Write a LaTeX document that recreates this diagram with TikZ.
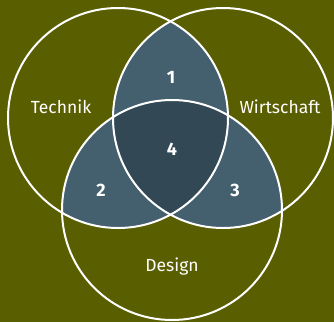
\documentclass[tikz,border=0pt]{standalone}
\usepackage{fontspec}
\setmainfont{Fira Sans}
\usepackage{tikz}

\definecolor{bgolive}{RGB}{89,94,0}
\definecolor{slate}{RGB}{68,95,110}
\definecolor{slatedark}{RGB}{50,73,85}

\tikzset{
    ring/.style={draw=white,line width=2pt},
    setlabel/.style={text=white,font=\fontsize{17.5}{20}\selectfont},
    num/.style={text=white,font=\bfseries\fontsize{18}{21}\selectfont}
}

\begin{document}
\begin{tikzpicture}[x=1pt,y=-1pt]
    \fill[bgolive] (0,0) rectangle (334,322);
    \useasboundingbox (0,0) rectangle (334,322);
    % pairwise overlaps
    \begin{scope}
        \clip (118,118) circle (110);
        \fill[slate] (223,118) circle (110);
        \fill[slate] (172,210) circle (110);
    \end{scope}
    \begin{scope}
        \clip (223,118) circle (110);
        \fill[slate] (172,210) circle (110);
    \end{scope}
    % middle
    \begin{scope}
        \clip (118,118) circle (110);
        \clip (223,118) circle (110);
        \fill[slatedark] (172,210) circle (110);
    \end{scope}
    \draw[ring] (118,118) circle (110);
    \draw[ring] (223,118) circle (110);
    \draw[ring] (172,210) circle (110);
    \node[setlabel] (technik) at (61,107) {Technik};
    \node[setlabel] (wirtschaft) at (280,107) {Wirtschaft};
    \node[setlabel] (design) at (172,267) {Design};
    \node[num] (n1) at (171,77) {1};
    \node[num] (n2) at (101,190) {2};
    \node[num] (n3) at (235,190) {3};
    \node[num] (n4) at (172,149) {4};
\end{tikzpicture}
\end{document}
